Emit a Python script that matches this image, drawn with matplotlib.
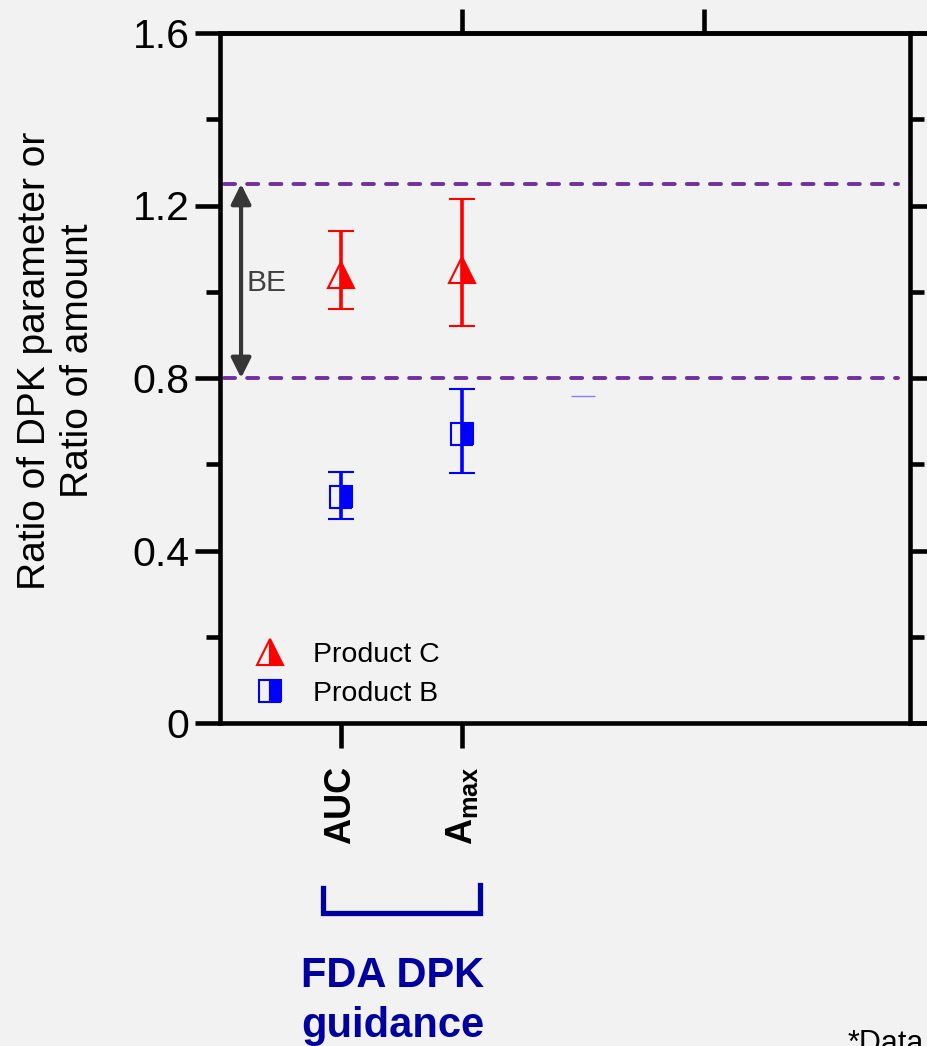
import matplotlib
matplotlib.use('Agg')
import matplotlib.pyplot as plt
from matplotlib.lines import Line2D

plt.rcParams['font.family'] = ['Liberation Sans', 'DejaVu Sans']
plt.rcParams['mathtext.fontset'] = 'custom'
plt.rcParams['mathtext.rm'] = 'Liberation Sans'
plt.rcParams['mathtext.bf'] = 'Liberation Sans:bold'

# data
params = ['AUC', r'$\mathbf{A_{max}}$']
param_x = [1, 2]

c_ratio = [1.04, 1.05]
c_low = [0.96, 0.92]
c_high = [1.14, 1.215]

b_ratio = [0.525, 0.669]
b_low = [0.473, 0.579]
b_high = [0.583, 0.774]

stray_x = [3]
stray_y = [0.758]

be_limits = [0.8, 1.25]
yticks = [0, 0.4, 0.8, 1.2, 1.6]
ytick_labels = ['0', '0.4', '0.8', '1.2', '1.6']
top_ticks = [2, 4]

bg = '#f2f2f2'
red = '#ff0000'
blue = '#0000ff'
navy = '#0000a0'
purple = '#7030a0'

W, H = 927, 1046
fig = plt.figure(figsize=(W / 100, H / 100), dpi=100, facecolor=bg)

# second panel behind, only to carry top/bottom frame past the divider
ax2 = fig.add_axes([910 / W, 1 - 723 / H, 100 / W, 690 / H], facecolor=bg)
ax2.set_xticks([])
ax2.set_yticks([])
for s in ['left', 'right']:
    ax2.spines[s].set_visible(False)
for s in ['top', 'bottom']:
    ax2.spines[s].set_linewidth(3.3)

ax = fig.add_axes([220 / W, 1 - 723 / H, 690 / W, 690 / H], facecolor=bg)
ax.set_xlim(0, 5.7)
ax.set_ylim(0, 1.6)

# BE limits
ax.hlines(be_limits, 0.03, 5.6, colors=purple, lw=2.8, linestyles=(0, (2.85, 3.1)),
          capstyle='round', zorder=1)

ax.errorbar(param_x, c_ratio,
            yerr=[[r - l for r, l in zip(c_ratio, c_low)], [h - r for r, h in zip(c_ratio, c_high)]],
            fmt='^', color=red, ms=18.5, fillstyle='right', markerfacecoloralt='none',
            mec=red, mew=1.5, elinewidth=2.6, capsize=9.5, capthick=3.6, zorder=3)
ax.errorbar(param_x, b_ratio,
            yerr=[[r - l for r, l in zip(b_ratio, b_low)], [h - r for r, h in zip(b_ratio, b_high)]],
            fmt='s', color=blue, ms=16.5, fillstyle='right', markerfacecoloralt='none',
            mec=blue, mew=1.5, elinewidth=2.6, capsize=9.5, capthick=3.6, zorder=3)
ax.hlines(stray_y, [x - 0.1 for x in stray_x], [x + 0.1 for x in stray_x], colors='#8080ff', lw=1)

# BE arrow
ax.annotate('', xy=(0.174, be_limits[1]), xytext=(0.174, be_limits[0]),
            arrowprops=dict(arrowstyle='<|-|>', color='#363636', lw=3, mutation_scale=30,
                            shrinkA=0, shrinkB=0))
ax.text(0.22, 1.02, 'BE', fontsize=21.5, color='#404040', ha='left', va='center')

# axes styling
for s in ax.spines.values():
    s.set_linewidth(3.3)
ax.set_yticks(yticks)
ax.set_yticklabels(ytick_labels, fontsize=29.5)
ax.set_yticks([0.2, 0.6, 1.0, 1.4], minor=True)
ax.tick_params(axis='y', which='major', length=18, width=3.3, direction='out', right=True, pad=4)
ax.tick_params(axis='y', which='minor', length=10, width=3.3, direction='out', right=True)
ax.set_xticks(param_x)
ax.set_xticklabels(params, rotation=90, fontsize=26, fontweight='bold')
ax.tick_params(axis='x', length=18, width=3.3, direction='out', pad=13)

sec = ax.secondary_xaxis('top')
sec.set_xticks(top_ticks, labels=['', ''])
sec.tick_params(length=17, width=3.3, direction='out')
sec.spines['top'].set_linewidth(3.3)

fig.text(57 / W, 1 - 361 / H, 'Ratio of DPK parameter or\nRatio of amount', rotation=90,
         ha='center', va='center', fontsize=28, linespacing=1.25, multialignment='center')

# legend
handles = [Line2D([], [], ls='none', marker='^', ms=18.5, color=red, fillstyle='right',
                  markerfacecoloralt='none', mew=1.5),
           Line2D([], [], ls='none', marker='s', ms=16.5, color=blue, fillstyle='right',
                  markerfacecoloralt='none', mew=1.5)]
ax.legend(handles, ['Product C', 'Product B'], loc='upper left', frameon=False,
          bbox_to_anchor=(256 / W, 1 - 642 / H), bbox_transform=fig.transFigure,
          fontsize=20.5, handlelength=1.0, handletextpad=1.0, labelspacing=0.45,
          borderpad=0, borderaxespad=0)

# guidance bracket
ax.plot([0.851, 0.851, 2.149, 2.149], [-0.383, -0.441, -0.441, -0.376], color=navy, lw=3.8,
        clip_on=False, solid_joinstyle='miter')
fig.text(393 / W, 1 - 987 / H, 'FDA DPK', ha='center', va='baseline', fontsize=30,
         fontweight='bold', color=navy)
fig.text(393 / W, 1 - 1037 / H, 'guidance', ha='center', va='baseline', fontsize=30,
         fontweight='bold', color=navy)

# footnote, cut by the lower edge as in the source slide
fig.text(848 / W, 1 - 1052 / H, '*Data', ha='left', va='baseline', fontsize=22)

fig.savefig('out.png', dpi=100, facecolor=bg)
